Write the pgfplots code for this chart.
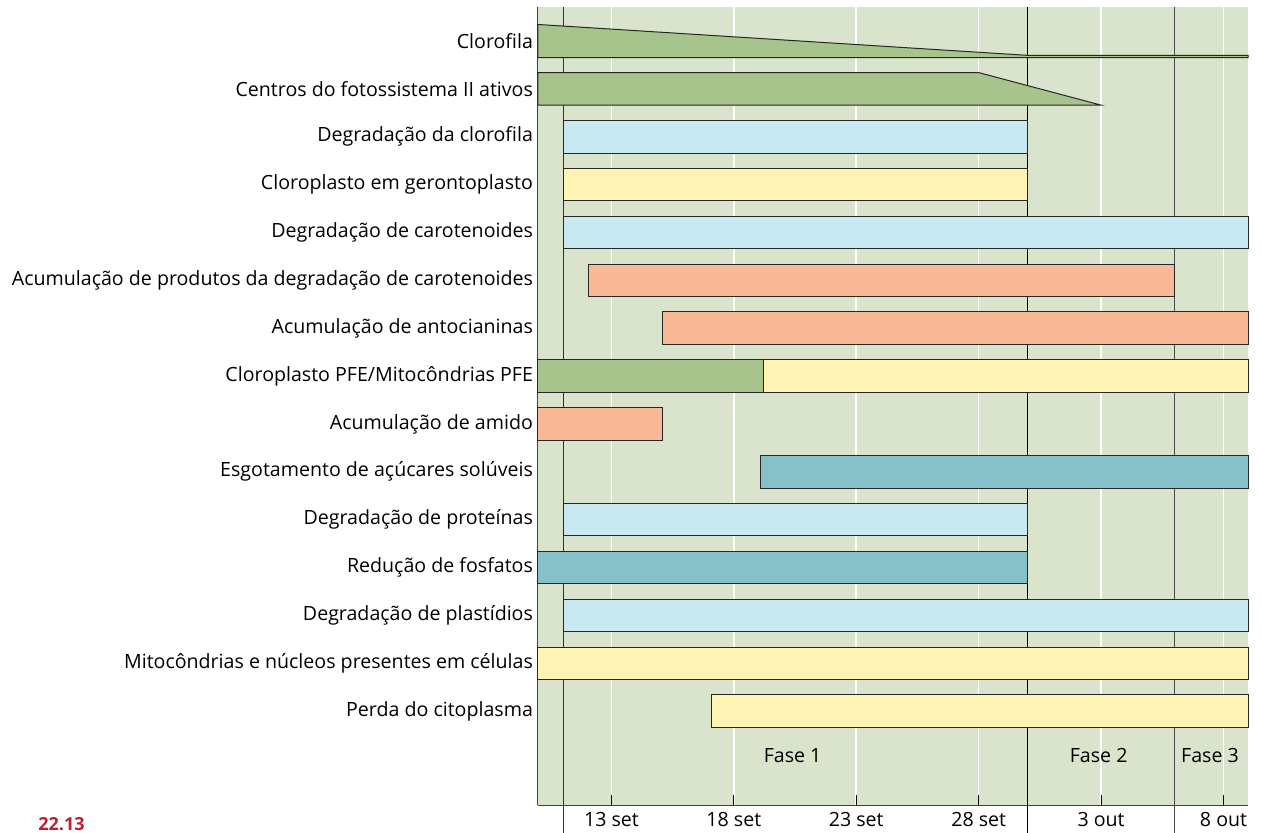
\documentclass[border=0pt]{standalone}
\usepackage{fontspec}
\setmainfont{Open Sans}
\usepackage{pgfplots}
\pgfplotsset{compat=1.18}
\definecolor{bg}{HTML}{DAE4CD}
\definecolor{gr}{HTML}{A6C48C}
\definecolor{lb}{HTML}{C8E8F2}
\definecolor{ye}{HTML}{FFF4B4}
\definecolor{sa}{HTML}{F9B896}
\definecolor{te}{HTML}{86C0C8}
\definecolor{rd}{HTML}{BE1E2D}
\begin{document}
\begin{tikzpicture}
\begin{axis}[
  at={(0,0)}, anchor=south west, scale only axis,
  width=355pt, height=399pt,
  xmin=10, xmax=39, ymin=-16.96, ymax=-0.29,
  axis x line=bottom, axis y line=left,
  axis line style={-, black!75, line width=0.5pt},
  axis background/.style={fill=bg},
  xtick={13,18,23,28,33,38},
  xticklabels={13 set,18 set,23 set,28 set,3 out,8 out},
  xmajorgrids=true, ymajorgrids=false,
  major grid style={white, line width=0.8pt},
  tick align=inside, major tick length=5pt,
  x tick style={black, line width=0.5pt},
  ytick={-1,-2,-3,-4,-5,-6,-7,-8,-9,-10,-11,-12,-13,-14,-15},
  yticklabels={Clorofila,Centros do fotossistema II ativos,Degradação da clorofila,Cloroplasto em gerontoplasto,Degradação de carotenoides,Acumulação de produtos da degradação de carotenoides,Acumulação de antocianinas,Cloroplasto PFE/Mitocôndrias PFE,Acumulação de amido,Esgotamento de açúcares solúveis,Degradação de proteínas,Redução de fosfatos,Degradação de plastídios,Mitocôndrias e núcleos presentes em células,Perda do citoplasma},
  y tick style={draw=none},
  y tick label style={xshift=1pt},
  tick label style={font=\fontsize{9.8}{11}\selectfont},
  clip=false,
]
% phase lines
\draw[black!80, line width=0.6pt] (axis cs:11.05,-0.29) -- (axis cs:11.05,-17.55);
\draw[black, line width=0.6pt] (axis cs:30,-0.29) -- (axis cs:30,-17.55);
\draw[black!70, line width=0.7pt] (axis cs:36,-0.29) -- (axis cs:36,-17.55);

\pgfplotsset{every axis plot/.append style={draw=black!85, line width=0.5pt}}
% Clorofila
\addplot[fill=gr] coordinates {(10,-0.655)(30,-1.30)(39,-1.30)(39,-1.345)(10,-1.345)} --cycle;
% Centros
\addplot[fill=gr] coordinates {(10,-1.66)(28,-1.66)(33,-2.34)(10,-2.34)} --cycle;
% Degradação da clorofila
\addplot[fill=lb] coordinates {(11.05,-2.66)(30,-2.66)(30,-3.34)(11.05,-3.34)} --cycle;
% Cloroplasto em gerontoplasto
\addplot[fill=ye] coordinates {(11.05,-3.66)(30,-3.66)(30,-4.34)(11.05,-4.34)} --cycle;
% Degradação de carotenoides
\addplot[fill=lb] coordinates {(11.05,-4.66)(39,-4.66)(39,-5.34)(11.05,-5.34)} --cycle;
% Acumulação de produtos
\addplot[fill=sa] coordinates {(12.05,-5.66)(36,-5.66)(36,-6.34)(12.05,-6.34)} --cycle;
% Antocianinas
\addplot[fill=sa] coordinates {(15.1,-6.66)(39,-6.66)(39,-7.34)(15.1,-7.34)} --cycle;
% Cloroplasto PFE / Mitocondrias PFE
\addplot[fill=gr] coordinates {(10,-7.66)(19.2,-7.66)(19.2,-8.34)(10,-8.34)} --cycle;
\addplot[fill=ye] coordinates {(19.2,-7.66)(39,-7.66)(39,-8.34)(19.2,-8.34)} --cycle;
% Amido
\addplot[fill=sa] coordinates {(10,-8.66)(15.1,-8.66)(15.1,-9.34)(10,-9.34)} --cycle;
% Esgotamento
\addplot[fill=te] coordinates {(19.1,-9.66)(39,-9.66)(39,-10.34)(19.1,-10.34)} --cycle;
% Proteinas
\addplot[fill=lb] coordinates {(11.05,-10.66)(30,-10.66)(30,-11.34)(11.05,-11.34)} --cycle;
% Fosfatos
\addplot[fill=te] coordinates {(10,-11.66)(30,-11.66)(30,-12.34)(10,-12.34)} --cycle;
% Plastidios
\addplot[fill=lb] coordinates {(11.05,-12.66)(39,-12.66)(39,-13.34)(11.05,-13.34)} --cycle;
% Mitocondrias e nucleos
\addplot[fill=ye] coordinates {(10,-13.66)(39,-13.66)(39,-14.34)(10,-14.34)} --cycle;
% Perda do citoplasma
\addplot[fill=ye] coordinates {(17.1,-14.66)(39,-14.66)(39,-15.34)(17.1,-15.34)} --cycle;

\node[font=\fontsize{9.8}{11}\selectfont] at (axis cs:20.4,-15.92) {Fase 1};
\node[font=\fontsize{9.8}{11}\selectfont] at (axis cs:32.9,-15.92) {Fase 2};
\node[font=\fontsize{9.8}{11}\selectfont] at (axis cs:37.45,-15.92) {Fase 3};
\end{axis}
\node[anchor=south west, text=rd, font=\bfseries\fontsize{9}{11}\selectfont, inner sep=0pt] at (-250pt,-13pt) {22.13};
\pgfresetboundingbox
\path (-269pt,-13.5pt) rectangle (362pt,402.5pt);
\end{tikzpicture}
\end{document}
